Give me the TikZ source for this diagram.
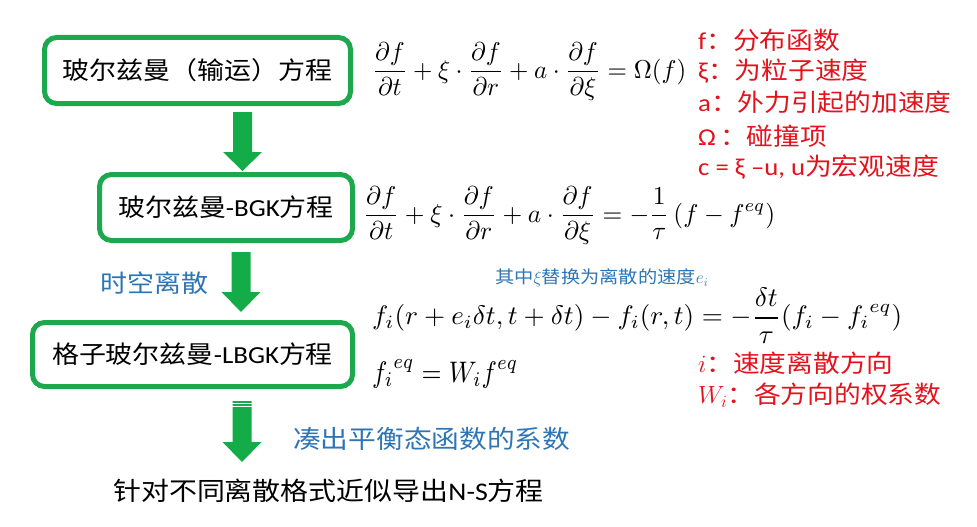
\documentclass[tikz,border=0pt]{standalone}
\usepackage[no-math]{fontspec}
\usepackage{graphicx}
\usetikzlibrary{calc}
\setmainfont[FakeStretch=1.1]{Carlito}
\newfontfamily\cjk[FakeStretch=1.1]{Noto Sans CJK SC}
\newcommand\zh[1]{{\cjk #1}}
\definecolor{boxgreen}{RGB}{30,168,78}
\definecolor{arrgreen}{RGB}{20,172,72}
\definecolor{lblred}{RGB}{228,18,28}
\definecolor{lblblue}{RGB}{46,117,182}
\newcommand\myblockarrow[4]{%
  \fill[arrgreen] (#1-9.5,#2) -- (#1+9.5,#2) -- (#1+9.5,#3) -- (#1+19.5,#3)
    -- (#1,#4) -- (#1-19.5,#3) -- (#1-9.5,#3) -- cycle;}
\tikzset{
  stepbox/.style={draw=boxgreen, line width=5pt, rounded corners=12pt, fill=white,
    inner sep=0pt, font=\fontsize{24.5}{28}\selectfont},
  redlbl/.style={text=lblred, anchor=west, inner sep=0pt, font=\fontsize{24.3}{28}\selectfont},
  bluelbl/.style={text=lblblue, anchor=west, inner sep=0pt, font=\fontsize{24.5}{28}\selectfont},
  smallblue/.style={text=lblblue, anchor=west, inner sep=0pt, font=\fontsize{17.5}{20}\selectfont},
  plainlbl/.style={text=black, anchor=west, inner sep=0pt, font=\fontsize{25.4}{28}\selectfont},
  eqn/.style={anchor=west, inner sep=0pt},
}
\begin{document}
\begin{tikzpicture}[x=1pt,y=-1pt]
\useasboundingbox[fill=white] (0,0) rectangle (977,527);

% boxes
\node[stepbox, minimum width=306pt, minimum height=66pt] (b1) at (197.5,70.5)
  {\zh{玻尔兹曼（输运）方程}};
\node[stepbox, minimum width=253pt, minimum height=66pt] (b2) at (226,207.5)
  {\zh{玻尔兹曼}-BGK\zh{方程}};
\node[stepbox, minimum width=320pt, minimum height=64pt] (b3) at (192.5,354.5)
  {\zh{格子玻尔兹曼}-LBGK\zh{方程}};

% block arrows
\myblockarrow{242.5}{112}{152}{171}
\myblockarrow{241}{252}{292}{312}
\myblockarrow{242}{401}{442}{462}
\draw[white, line width=1pt] (230,403.5) -- (254,403.5);
\draw[white, line width=1pt] (230,406.5) -- (254,406.5);

% side texts
\node[bluelbl] (t1) at (100,283.5) {\zh{时空离散}};
\node[bluelbl, font=\fontsize{25.2}{28}\selectfont] (t2) at (293,438.5) {\zh{凑出平衡态函数的系数}};
\node[plainlbl] (t3) at (113,490.5) {\zh{针对不同离散格式近似导出}N-S\zh{方程}};
\node[smallblue] (t4) at (495,278) {\zh{其中}$\xi$\zh{替换为离散的速度}$e_i$};

% equations
\node[eqn] (e1) at (372,72) {\resizebox*{314pt}{58pt}{$\displaystyle
  \frac{\partial f}{\partial t}+\xi\cdot\frac{\partial f}{\partial r}+a\cdot\frac{\partial f}{\partial \xi}=\Omega(f)$}};
\node[eqn] (e2) at (363,216) {\resizebox*{412pt}{58pt}{$\displaystyle
  \frac{\partial f}{\partial t}+\xi\cdot\frac{\partial f}{\partial r}+a\cdot\frac{\partial f}{\partial \xi}=-\frac{1}{\tau}\left(f-f^{eq}\right)$}};
\node[eqn] (e3) at (372,315.5) {\resizebox*{530pt}{55pt}{$\displaystyle
  f_i(r+e_i\delta t,t+\delta t)-f_i(r,t)=-\frac{\delta t}{\tau}(f_i-{f_i}^{eq})$}};
\node[eqn] (e4) at (372,374) {\resizebox*{146pt}{28pt}{$\displaystyle {f_i}^{eq}=W_if^{eq}$}};

% red labels
\node[redlbl] (r1) at (698,40) {f\zh{：分布函数}};
\node[redlbl] (r2) at (698,71) {ξ\zh{：为粒子速度}};
\node[redlbl] (r3) at (698,102.5) {a\zh{：外力引起的加速度}};
\node[redlbl] (r4) at (698,136) {Ω\,\zh{：碰撞项}};
\node[redlbl] (r5) at (698,167.5) {c = ξ –u, u\zh{为宏观速度}};
\node[redlbl] (r6) at (698,363) {$i$\zh{：速度离散方向}};
\node[redlbl] (r7) at (698,395) {$W_i$\zh{：各方向的权系数}};
\end{tikzpicture}
\end{document}
